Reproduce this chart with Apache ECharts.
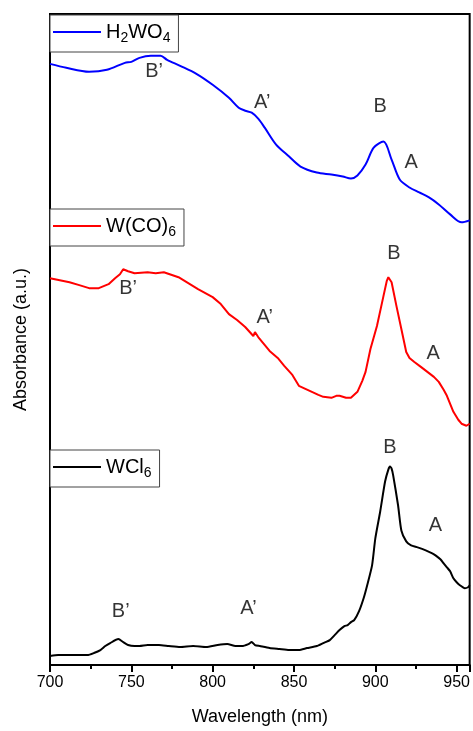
<!DOCTYPE html>
<html><head><meta charset="utf-8">
<script src="https://cdn.jsdelivr.net/npm/echarts@6/dist/echarts.min.js"></script>
<style>html,body{margin:0;padding:0;background:#fff}#c{width:473px;height:731px}</style>
</head><body><div id="c"></div>
<script>
// wavelength (nm), absorbance (arbitrary units, curves stacked with offsets)
const h2wo4 = [[700,603],[710,599],[724,595],[735,597],[746,604],[750,605],[755,609],[762,611],[768,611],[772,607],[780,601],[790,593],[800,582],[810,569],[816,559],[820,556],[824,554],[828,548],[832,539],[839,522],[847,510],[854,500],[864,494],[873,492],[880,490],[885,488],[889,491],[894,502],[899,519],[905,525],[910,507],[915,487],[921,479],[927,474],[933,469],[939,462],[946,452],[953,444],[958,446]];
const wco6 = [[700,388],[706,386],[712,384],[718,381],[724,378],[730,378],[736,382],[740,388],[743,392],[745,397],[748,395],[752,393],[760,394],[765,393],[770,394],[779,389],[785,383],[791,377],[800,369],[805,362],[810,352],[815,346],[820,339],[825,330],[826,334],[828,329],[835,315],[840,308],[844,300],[849,291],[853,280],[857,277],[861,274],[865,271],[868,269],[873,268],[876,270],[878,270],[882,268],[885,268],[889,274],[892,285],[894,294],[897,317],[901,340],[905,370],[907,385],[908,389],[910,384],[913,360],[916,337],[919,314],[921,308],[924,304],[928,299],[932,294],[936,289],[939,284],[942,276],[944,270],[948,254],[951,246],[953,242],[956,240],[958,242]];
const wcl6 = [[700,9],[705,10],[710,10],[716,10],[723,10],[727,12],[731,15],[734,19],[737,22],[742,26],[745,23],[748,20],[752,19],[755,19],[760,20],[767,20],[773,19],[780,18],[788,19],[796,18],[803,20],[809,21],[814,19],[818,19],[822,21],[824,23],[826,20],[829,19],[835,17],[841,16],[847,15],[853,15],[858,17],[864,19],[868,22],[872,25],[875,30],[878,35],[881,39],[883,40],[885,43],[887,45],[890,54],[893,68],[895,80],[898,100],[900,127],[903,154],[906,184],[908,196],[909,199],[910,197],[911,190],[914,160],[916,135],[919,124],[922,120],[926,118],[931,115],[935,112],[937,110],[940,106],[942,102],[944,98],[946,94],[948,87],[950,83],[952,80],[955,77],[957,78],[958,80]];
// peak annotations [nm, value, label]
const notesBlue = [[764,595,"B’"],[830.5,564,"A’"],[903,560,"B"],[922,504,"A"]];
const notesRed = [[748,378,"B’"],[832,349,"A’"],[911.5,413,"B"],[935.5,312,"A"]];
const notesBlack = [[743.5,54,"B’"],[822,57,"A’"],[909,218,"B"],[937,140,"A"]];
const seriesNames = ['H2WO4','W(CO)6','WCl6'];
const legendRich = {'H2WO4':'{n|H}{s|2}{n|WO}{s|4}','W(CO)6':'{n|W(CO)}{s|6}','WCl6':'{n|WCl}{s|6}'};

const FONT = 'Liberation Sans, Arial, sans-serif';
const chart = echarts.init(document.getElementById('c'), null, {renderer:'canvas'});
function noteSeries(arr){
  return {type:'scatter', data:arr.map(d=>({value:[d[0],d[1]], name:d[2]})), symbol:'circle', symbolSize:2, silent:true,
    itemStyle:{color:'rgba(0,0,0,0)'}, z:5, labelLayout:{hideOverlap:false},
    label:{show:true, position:'inside', formatter:p=>p.name, color:'#000', fontSize:20, fontFamily:FONT}};
}
const rich = {n:{fontSize:20, fontFamily:FONT, color:'#000'}, s:{fontSize:14, fontFamily:FONT, color:'#000', padding:[12,0,0,0]}};
function legend(name, top, color){
  return {data:[{name:name, icon:'rect', itemStyle:{color:color}}], left:50, top:top, orient:'vertical', itemWidth:48, itemHeight:2, itemGap:0,
    padding:[7,8,7,3], borderColor:'#444', borderWidth:1, backgroundColor:'#fff', selectedMode:false,
    formatter:n=>legendRich[n], textStyle:{rich:rich, fontSize:20, fontFamily:FONT, color:'#000'}};
}
chart.setOption({
  animation:false,
  backgroundColor:'#fff',
  grid:{left:50, right:1, top:14, bottom:64, show:true, borderColor:'#000', borderWidth:2},
  legend:[legend(seriesNames[0],15,'#0000ff'), legend(seriesNames[1],209,'#ff0000'), legend(seriesNames[2],450,'#000')],
  xAxis:{type:'value', min:700, max:958, interval:50,
    name:'Wavelength (nm)', nameLocation:'middle', nameGap:43,
    nameTextStyle:{fontSize:18, fontFamily:FONT, color:'#000'},
    axisLine:{lineStyle:{color:'#000', width:2}},
    axisTick:{show:true, inside:false, length:7, lineStyle:{color:'#000', width:2}},
    minorTick:{show:true, splitNumber:2, length:4, lineStyle:{color:'#000', width:2}},
    axisLabel:{fontSize:16, fontFamily:FONT, color:'#000', margin:10, showMaxLabel:false,
      formatter:v=> (v % 50 === 0 ? String(v) : '')},
    splitLine:{show:false}},
  yAxis:{type:'value', min:0, max:653,
    name:'Absorbance (a.u.)', nameLocation:'middle', nameGap:20,
    nameTextStyle:{fontSize:18, fontFamily:FONT, color:'#000'},
    axisLine:{show:true, lineStyle:{color:'#000', width:2}},
    axisTick:{show:false}, axisLabel:{show:false}, splitLine:{show:false}},
  series:[
    {name:seriesNames[0], type:'line', data:h2wo4, symbol:'none', smooth:0.3, lineStyle:{color:'#0000ff', width:2}, itemStyle:{color:'#0000ff'}},
    {name:seriesNames[1], type:'line', data:wco6, symbol:'none', lineStyle:{color:'#ff0000', width:2}, itemStyle:{color:'#ff0000'}},
    {name:seriesNames[2], type:'line', data:wcl6, symbol:'none', smooth:0.2, lineStyle:{color:'#000', width:2}, itemStyle:{color:'#000'}},
    noteSeries(notesBlue), noteSeries(notesRed), noteSeries(notesBlack)
  ]
});
</script></body></html>
